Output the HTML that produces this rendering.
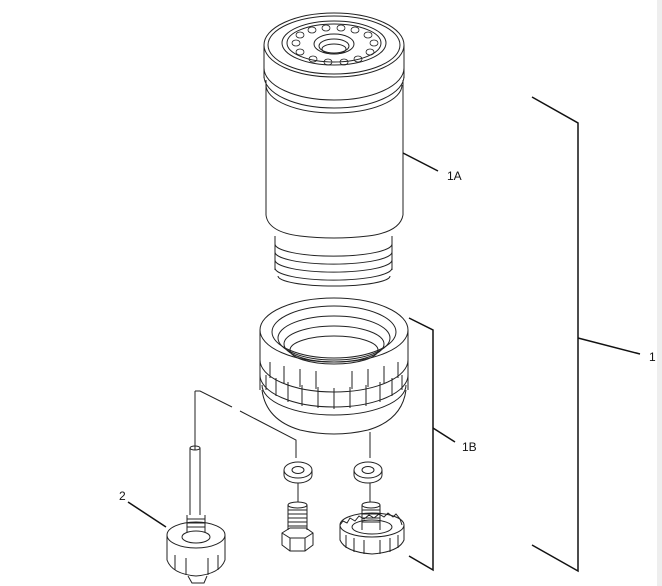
<!DOCTYPE html>
<html><head><meta charset="utf-8"><style>
html,body{margin:0;padding:0;background:#fff;width:662px;height:586px;overflow:hidden}
svg{display:block}
text{font-family:"Liberation Sans",sans-serif;font-size:12px;fill:#111}
</style></head><body>
<svg width="662" height="586" viewBox="0 0 662 586" xmlns="http://www.w3.org/2000/svg">
<rect x="657" y="0" width="5" height="586" fill="#eee"/>
<g fill="none" stroke="#222" stroke-width="1">
<!-- filter canister -->
<ellipse cx="334" cy="45" rx="70" ry="32"/>
<ellipse cx="334" cy="45" rx="66" ry="29"/>
<ellipse cx="334" cy="43" rx="52" ry="22"/>
<ellipse cx="334" cy="43" rx="47" ry="19"/>
<ellipse cx="334" cy="44" rx="20" ry="10"/>
<ellipse cx="334" cy="46" rx="15" ry="7"/>
<ellipse cx="334" cy="49" rx="12" ry="5"/>
<g stroke-width="0.8">
<ellipse cx="300" cy="35" rx="4" ry="3"/><ellipse cx="312" cy="30" rx="4" ry="3"/><ellipse cx="326" cy="28" rx="4" ry="3"/><ellipse cx="341" cy="28" rx="4" ry="3"/><ellipse cx="355" cy="30" rx="4" ry="3"/><ellipse cx="368" cy="35" rx="4" ry="3"/><ellipse cx="374" cy="43" rx="4" ry="3"/><ellipse cx="370" cy="52" rx="4" ry="3"/><ellipse cx="358" cy="59" rx="4" ry="3"/><ellipse cx="344" cy="62" rx="4" ry="3"/><ellipse cx="328" cy="62" rx="4" ry="3"/><ellipse cx="313" cy="59" rx="4" ry="3"/><ellipse cx="300" cy="52" rx="4" ry="3"/><ellipse cx="296" cy="43" rx="4" ry="3"/>
</g>
<path d="M264 45 V78 M404 45 V78"/>
<path d="M264 68 A70 32 0 0 0 404 68"/>
<path d="M264 76 A70 32 0 0 0 404 76"/>
<path d="M266 85 A68 28 0 0 0 402 85"/>
<path d="M266 80 V215 M403 80 V215"/>
<path d="M266 215 Q268 232 300 236 Q334 240 368 236 Q400 232 403 215"/>
<path d="M275 236 V270 M392 236 V270"/>
<path d="M275 244 A58 12 0 0 0 392 244 M275 252 A58 12 0 0 0 392 252 M275 260 A58 12 0 0 0 392 260 M275 268 A58 12 0 0 0 392 268 M278 276 A56 10 0 0 0 390 276"/>
<!-- ring nut -->
<ellipse cx="334" cy="330" rx="74" ry="32"/>
<ellipse cx="334" cy="332" rx="62" ry="26"/>
<ellipse cx="334" cy="338" rx="56" ry="22"/>
<ellipse cx="334" cy="344" rx="50" ry="18"/>
<ellipse cx="334" cy="350" rx="44" ry="14"/>
<path d="M260 330 V390 M408 330 V390"/>
<path d="M260 360 A74 32 0 0 0 408 360"/>
<path d="M260 375 A74 32 0 0 0 408 375"/>
<path d="M262 385 A72 30 0 0 0 406 385"/>
<path d="M262 390 Q266 420 300 430 Q334 438 368 430 Q402 420 406 390"/>
<path d="M266 375 V390 M276 378 V396 M288 382 V402 M302 385 V406 M318 387 V408 M334 388 V409 M350 387 V408 M366 385 V406 M380 382 V402 M392 378 V396 M402 375 V390"/>
<path d="M270 362 V378 M284 366 V383 M300 369 V387 M316 371 V389 M352 371 V389 M368 369 V387 M384 366 V383 M398 362 V378"/>
<!-- leader lines for lower parts -->
<path d="M195 391 H200 L232 407 M240 411 L296 440 V458"/>
<path d="M195 391 V450"/>
<path d="M370 432 V458"/>
<!-- washers -->
<ellipse cx="298" cy="470" rx="14" ry="8"/><path d="M284 470 V475 A14 8 0 0 0 312 475 V470"/><ellipse cx="298" cy="470" rx="6" ry="3.5"/>
<ellipse cx="368" cy="470" rx="14" ry="8"/><path d="M354 470 V475 A14 8 0 0 0 382 475 V470"/><ellipse cx="368" cy="470" rx="6" ry="3.5"/>
<path d="M298 483 V502 M370 483 V502"/>
<!-- bolt -->
<path d="M288 505 V530 M307 505 V530"/><ellipse cx="297.5" cy="505" rx="9.5" ry="3"/>
<path d="M288 510 h19 M288 514 h19 M288 518 h19 M288 522 h19 M288 526 h19"/>
<path d="M282 533 L290 528 H306 L313 533 V545 L305 551 H290 L282 545 Z M282 533 L290 538 H305 L313 533 M290 538 V551 M305 538 V551"/>
<!-- knurled nut -->
<path d="M362 505 V530 M380 505 V530"/><ellipse cx="371" cy="505" rx="9" ry="3"/>
<path d="M362 510 h18 M362 514 h18 M362 518 h18 M362 522 h18"/>
<ellipse cx="372" cy="525" rx="32" ry="12"/>
<ellipse cx="372" cy="527" rx="20" ry="7"/>
<path d="M340 525 V540 Q345 552 372 554 Q399 552 404 540 V525"/>
<path d="M346 535 V548 M354 538 V552 M364 540 V554 M380 540 V554 M390 538 V552 M398 535 V548"/>
<path d="M340 525 l3 -4 l4 2 l3 -5 l5 3 l4 -5 l5 3 l5 -4 l5 3 l5 -4 l5 3 l4 -4 l5 4 l3 -3 l4 5 l2 6"/>
<!-- pin and knob (2) -->
<path d="M190 448 V515 M200 448 V515"/><ellipse cx="195" cy="448" rx="5" ry="2"/>
<path d="M187 515 V532 M205 515 V532 M187 519 h18 M187 523 h18 M187 527 h18"/>
<ellipse cx="196" cy="535" rx="29" ry="13"/>
<ellipse cx="196" cy="537" rx="14" ry="6"/>
<path d="M167 535 V560 Q172 574 196 576 Q220 574 225 560 V535"/>
<path d="M175 555 V570 M186 558 V575 M208 558 V575 M218 555 V570"/>
<path d="M188 576 L192 583 H204 L207 576"/>
</g>
<!-- brackets and leaders -->
<g fill="none" stroke="#111" stroke-width="1.5">
<path d="M532 97 L578 123 V571 L532 545"/>
<path d="M578 338 L640 354"/>
<path d="M409 318 L433 330 V570 L409 556"/>
<path d="M433 428 L455 442"/>
<path d="M403 153 L438 171"/>
<path d="M128 502 L166 527"/>
</g>
<text x="447" y="180">1A</text>
<text x="649" y="361">1</text>
<text x="462" y="451">1B</text>
<text x="119" y="500">2</text>
</svg>
</body></html>
